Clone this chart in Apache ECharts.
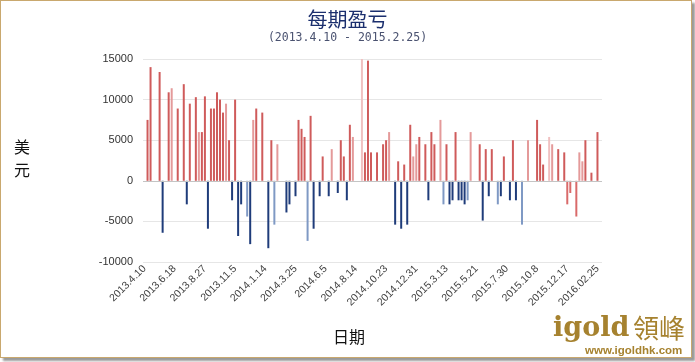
<!DOCTYPE html>
<html><head><meta charset="utf-8">
<script src="https://cdn.jsdelivr.net/npm/echarts@6/dist/echarts.min.js"></script>
<style>
html,body{margin:0;padding:0;background:#fff;}
#frame{position:absolute;left:0;top:0;width:690px;height:356px;border:1px solid #c9a86e;box-shadow:3px 3px 2px #9a9a9a;background:#fff;}
#chart{position:absolute;left:0;top:0;width:695px;height:362px;}
</style></head>
<body>
<div id="frame"></div>
<div id="chart"></div>
<script>
const tickLabels = ['2013.4.10','2013.6.18','2013.8.27','2013.11.5','2014.1.14','2014.3.25','2014.6.5','2014.8.14','2014.10.23','2014.12.31','2015.3.13','2015.5.21','2015.7.30','2015.10.8','2015.12.17','2016.02.25'];

// profit / loss per period (USD), one entry per period
const pnl = [
  0, 7500, 14000, 0, 0, 13400, -6400, 0, 10900, 11400,
  0, 8900, 0, 11900, -2900, 9500, 0, 10300, 6000, 6000,
  10400, -5900, 8900, 8900, 10900, 10000, 8400, 9500, 5000, -2400,
  10000, -6800, -2900, 0, -4400, -7800, 7500, 8900, 0, 8400,
  0, -8300, 5000, -5400, 4500, 0, 0, -3900, -2900, 0,
  -1900, 7500, 6400, 5400, -7400, 8000, -5900, 0, -1900, 3000,
  0, -1900, 3900, 0, -1500, 5000, 3000, -2400, 6900, 5400,
  0, 0, 15000, 3500, 14800, 3500, 0, 3500, 0, 4500,
  5000, 6000, 0, -5400, 2400, -5900, 2000, -5400, 6900, 3000,
  4500, 5400, 0, 4500, -2400, 6000, 4500, 0, 7500, -2900,
  4500, -2900, -2400, 6000, -2400, -2400, -2900, -2400, 6000, 0,
  0, 4500, -4900, 3900, -1900, 3900, 0, -2900, -1900, 3000,
  0, -2400, 5000, -2400, 0, -5400, 0, 5000, 0, 0,
  7500, 4500, 2000, 0, 5400, 4500, 0, 3900, 0, 3500,
  -2900, -1500, 0, -4400, 3500, 2400, 5000, 0, 1000, 0,
  6000, 0
];

const categories = pnl.map((v, i) => (i % 10 === 0 && tickLabels[i / 10]) ? tickLabels[i / 10] : 'p' + i);

// shading groups (style only)
const lightRed = [9, 18, 27, 36, 44, 62, 69, 81, 89, 90, 98, 108, 127, 135, 144, 145];
const paleRed = [72, 134];
const lightBlue = [34, 43, 54, 99, 107, 117, 125];
const redNeg = [140, 141, 143];

function barColor(i, v) {
  if (paleRed.includes(i)) return '#f0c0c0';
  if (lightRed.includes(i)) return '#e49a9a';
  if (redNeg.includes(i)) return '#d96a6a';
  if (lightBlue.includes(i)) return '#7f99c4';
  return v >= 0 ? '#cf5b5b' : '#1f3c7a';
}

const chart = echarts.init(document.getElementById('chart'), null, {renderer: 'canvas'});
chart.setOption({
  backgroundColor: 'transparent',
  animation: false,
  title: {
    text: '每期盈亏',
    subtext: '(2013.4.10 - 2015.2.25)',
    left: 'center',
    top: 4,
    itemGap: 3,
    textStyle: {fontFamily: 'Noto Sans CJK SC', fontSize: 20, fontWeight: 'normal', color: '#1b2f6e'},
    subtextStyle: {fontFamily: 'DejaVu Sans Mono', fontSize: 11.5, color: '#4a5270'}
  },
  grid: {left: 143, right: 93, top: 59, bottom: 100, containLabel: false},
  xAxis: {
    type: 'category',
    data: categories,
    boundaryGap: true,
    axisLine: {show: false, onZero: false},
    axisTick: {show: false},
    splitLine: {show: false},
    axisLabel: {interval: 9, rotate: 45, margin: 5, fontSize: 10.5, color: '#404040', fontFamily: 'Liberation Sans'}
  },
  yAxis: {
    type: 'value',
    min: -10000, max: 15000, interval: 5000,
    axisLine: {show: false},
    axisTick: {show: false},
    splitLine: {lineStyle: {color: '#e6e6e6', width: 1}},
    axisLabel: {fontSize: 11, color: '#333', margin: 10, fontFamily: 'Liberation Sans', formatter: v => String(v)}
  },
  series: [{
    type: 'bar',
    data: pnl.map((v, i) => ({value: v, itemStyle: {color: barColor(i, v)}})),
    barWidth: 2,
    clip: true,
    markLine: {
      silent: true, symbol: 'none', label: {show: false},
      lineStyle: {color: '#c4c4c4', type: 'solid', width: 1},
      data: [{yAxis: 0}]
    }
  }],
  graphic: [
    {type: 'text', left: 14, top: 135, style: {text: '美\n元', fontSize: 16, lineHeight: 23, fill: '#111', fontFamily: 'Noto Sans CJK SC'}},
    {type: 'text', left: 333, top: 329, style: {text: '日期', fontSize: 16, fill: '#111', fontFamily: 'Noto Sans CJK SC'}},
    {type: 'text', left: 553, top: 315, style: {text: 'igold', fontSize: 27, fontWeight: 'bold', fill: '#a6822f', fontFamily: 'DejaVu Serif'}},
    {type: 'text', left: 633, top: 315, style: {text: '領峰', fontSize: 26, fill: '#a6822f', fontFamily: 'Noto Sans CJK TC'}},
    {type: 'text', left: 585, top: 345, style: {text: 'www.igoldhk.com', fontSize: 11.5, fontWeight: 'bold', fill: '#a6822f', fontFamily: 'Liberation Sans'}}
  ]
});
</script>
</body></html>
